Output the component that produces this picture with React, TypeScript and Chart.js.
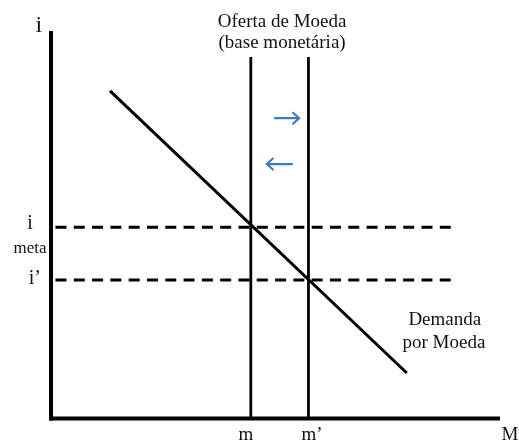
import React, { useEffect, useRef } from "react";
import { Chart, registerables } from "chart.js";

Chart.register(...registerables);

// Conceptual values (arbitrary units)
const axisMax = [100, 100]; // [M max, i max]
const moneySupply = [44.7, 57.6]; // m, m'
const supplyTop = 93.8;
const rates = [49.6, 35.9]; // i meta, i'
const rateLineRange = [1, 89.6];
const demandX = [13.2, 79.6];
const demandY = [85.0, 11.8];
const arrowsRight = [50.1, 55.5, 77.9]; // x from, x to, y
const arrowsLeft = [53.9, 48.3, 66.0];

type Lbl = { t: string; x: number; y: number; size?: number };
const labels: Lbl[] = [
  { t: "i", x: -2.7, y: 100.3, size: 24 },
  { t: "i", x: -4.7, y: 49.2, size: 20 },
  { t: "meta", x: -4.7, y: 42.9, size: 17 },
  { t: "i\u2019", x: -3.6, y: 34.9, size: 20 },
  { t: "m", x: 43.6, y: -5.6 },
  { t: "m\u2019", x: 58.4, y: -5.6 },
  { t: "M", x: 102.7, y: -5.6 },
  { t: "Oferta de Moeda", x: 51.7, y: 101.6 },
  { t: "(base monet\u00e1ria)", x: 51.7, y: 96.1 },
  { t: "Demanda", x: 88.1, y: 24.3 },
  { t: "por Moeda", x: 87.9, y: 18.3 },
];

const FONT = "'Liberation Serif', 'Times New Roman', serif";

const overlay = {
  id: "overlay",
  afterDatasetsDraw(chart: any) {
    const { ctx, scales } = chart;
    const xs = scales.x;
    const ys = scales.y;
    ctx.save();
    ctx.fillStyle = "#111";
    ctx.textAlign = "center";
    ctx.textBaseline = "alphabetic";
    for (const l of labels) {
      ctx.font = `${l.size || 19}px ${FONT}`;
      ctx.fillText(l.t, xs.getPixelForValue(l.x), ys.getPixelForValue(l.y));
    }
    const drawArrow = (a: number[]) => {
      const x1 = xs.getPixelForValue(a[0]);
      const x2 = xs.getPixelForValue(a[1]);
      const y = ys.getPixelForValue(a[2]);
      const dir = Math.sign(x2 - x1);
      ctx.strokeStyle = "#3b7dc4";
      ctx.lineWidth = 2.2;
      ctx.lineCap = "round";
      ctx.beginPath();
      ctx.moveTo(x1, y);
      ctx.lineTo(x2, y);
      ctx.moveTo(x2 - dir * 6, y - 5.5);
      ctx.lineTo(x2, y);
      ctx.lineTo(x2 - dir * 6, y + 5.5);
      ctx.stroke();
    };
    drawArrow(arrowsRight);
    drawArrow(arrowsLeft);
    ctx.restore();
  },
};

export default function App() {
  const ref = useRef<HTMLCanvasElement>(null);
  useEffect(() => {
    if (!ref.current) return;
    const line = (data: any[], width: number, extra: any = {}) => ({
      data,
      showLine: true,
      borderColor: "#000",
      backgroundColor: "#000",
      borderWidth: width,
      pointRadius: 0,
      tension: 0,
      ...extra,
    });
    const chart = new Chart(ref.current, {
      type: "scatter",
      data: {
        datasets: [
          line([{ x: 0, y: 0 }, { x: 0, y: axisMax[1] }], 4, { borderCapStyle: "square" }),
          line([{ x: 0, y: 0 }, { x: axisMax[0], y: 0 }], 4, { borderCapStyle: "square" }),
          ...moneySupply.map((m) => line([{ x: m, y: 0 }, { x: m, y: supplyTop }], 2.8)),
          line(demandX.map((x, k) => ({ x, y: demandY[k] })), 3),
          ...rates.map((r) =>
            line([{ x: rateLineRange[0], y: r }, { x: rateLineRange[1], y: r }], 3, { borderDash: [11, 7.3] })
          ),
        ],
      },
      options: {
        animation: false,
        responsive: false,
        layout: { padding: 0 },
        plugins: { legend: { display: false }, tooltip: { enabled: false } },
        scales: {
          x: { type: "linear", min: -11.41, max: 104.7, display: false },
          y: { type: "linear", min: -6.36, max: 108.56, display: false },
        },
      },
      plugins: [overlay],
    });
    return () => chart.destroy();
  }, []);
  return (
    <div style={{ position: "fixed", left: 0, top: 0, width: 519, height: 443, background: "#fff" }}>
      <canvas ref={ref} width={519} height={443} style={{ display: "block" }} />
    </div>
  );
}
